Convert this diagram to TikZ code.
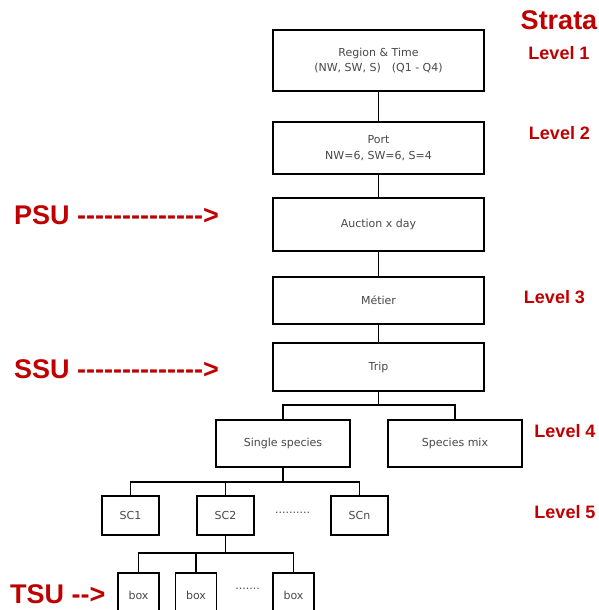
\documentclass[tikz,border=0pt]{standalone}
\usepackage{fontspec}
\setmainfont{DejaVu Sans}
\newfontfamily\labelfont{Liberation Sans}
\usetikzlibrary{positioning}
\definecolor{stratared}{HTML}{C00000}
\definecolor{boxtext}{HTML}{484848}

\begin{document}
\begin{tikzpicture}[x=1pt,y=-1pt,line cap=rect]
% Configurable parameters
\def\wide{211}
\def\mid{378.5}

% Styles
\tikzstyle{stage}=[draw=black,line width=1.1pt,fill=white,align=center,
  text=boxtext,font=\fontsize{11}{15.5}\selectfont,inner sep=2pt]
\tikzstyle{link}=[line width=1.1pt]
\tikzstyle{level}=[text=stratared,font=\labelfont\bfseries\fontsize{18}{20}\selectfont]
\tikzstyle{unit}=[level,font=\labelfont\bfseries\fontsize{27}{29}\selectfont,anchor=west,inner sep=0pt]
\tikzstyle{gap}=[text=boxtext,font=\fontsize{11}{12}\selectfont]

% Page frame
\useasboundingbox (0,0) rectangle (598,610);
\clip (0,0) rectangle (598,610);

% Main chain of strata.
\node[stage,minimum width=\wide,minimum height=61] (region) at (\mid,60.5)
  {Region \& Time\\(NW, SW, S)\quad(Q1 - Q4)};
\node[stage,minimum width=\wide,minimum height=52] (port) at (\mid,148)
  {Port\\NW=6, SW=6, S=4};
\node[stage,minimum width=\wide,minimum height=53] (auction) at (\mid,224.5) {Auction x day};
\node[stage,minimum width=\wide,minimum height=47] (metier) at (\mid,300.5) {Métier};
\node[stage,minimum width=\wide,minimum height=48] (trip) at (\mid,367) {Trip};

% Level 4 split.
\node[stage,minimum width=134,minimum height=47] (single) at (283,443.5) {Single species};
\node[stage,minimum width=134,minimum height=47] (mix) at (455,443.5) {Species mix};

% Size classes.
\node[stage,minimum width=57,minimum height=39] (sc1) at (130.5,515.5) {SC1};
\node[stage,minimum width=57,minimum height=39] (sc2) at (225.5,515.5) {SC2};
\node[stage,minimum width=57,minimum height=39] (scn) at (359.5,515.5) {SCn};
\node[gap] (scdots) at (292.5,513) {..........};

% Boxes (cut by the page edge).
\node[stage,minimum width=41,minimum height=45] (box1) at (138.5,595.5) {box};
\node[stage,minimum width=41,minimum height=45] (box2) at (196,595.5) {box};
\node[stage,minimum width=41,minimum height=45] (box3) at (293.5,595.5) {box};
\node[gap] (boxdots) at (247.5,589) {.......};

% Branch points.
\coordinate (split4) at (\mid,405);
\coordinate (split5) at (283,482);
\coordinate (split6) at (225.5,553);

% Connectors.
\draw[link] (region) -- (port);
\draw[link] (port) -- (auction);
\draw[link] (auction) -- (metier);
\draw[link] (metier) -- (trip);
\draw[link] (trip) -- (split4);
\draw[link] (single.north) |- (split4) -| (mix.north);
\draw[link] (single) -- (split5);
\draw[link] (sc1.north) |- (split5) -| (scn.north);
\draw[link] (sc2.north) -- (sc2.north |- split5);
\draw[link] (sc2) -- (split6);
\draw[link] (box1.north) |- (split6) -| (box3.north);
\draw[link] (box2.north) -- (box2.north |- split6);

% Strata labels.
\node[level,font=\labelfont\bfseries\fontsize{27}{29}\selectfont] (strata) at (559,20) {Strata};
\node[level] (lev1) at (559,53) {Level 1};
\node[level] (lev2) at (559.5,133) {Level 2};
\node[level] (lev3) at (554.5,297) {Level 3};
\node[level] (lev4) at (565,431) {Level 4};
\node[level] (lev5) at (565,512) {Level 5};

% Sampling units.
\node[unit] (psu) at (14,215) {PSU -------------->};
\node[unit] (ssu) at (14,369) {SSU -------------->};
\node[unit] (tsu) at (10,594) {TSU -->};
\end{tikzpicture}
\end{document}
